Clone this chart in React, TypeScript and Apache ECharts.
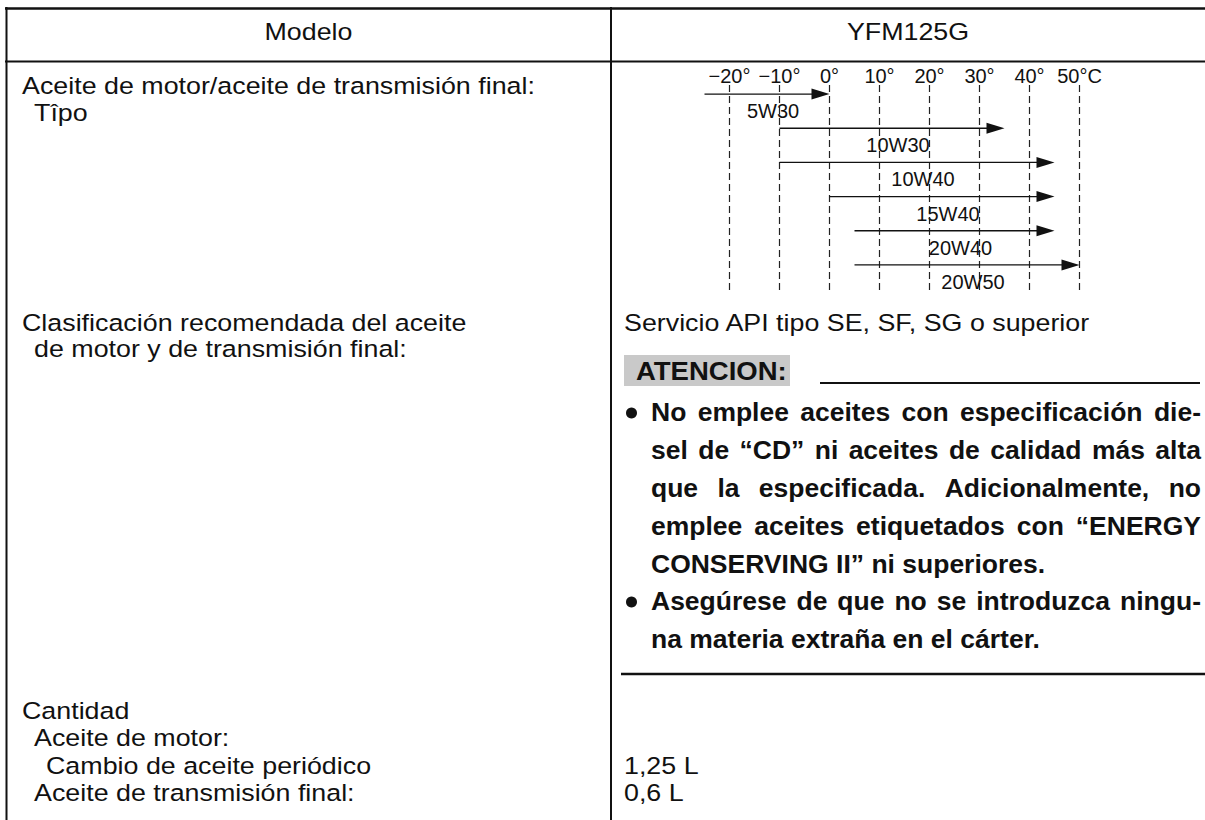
import React, { useEffect, useRef } from "react";
import * as echarts from "echarts";

// ---- data ----
const tempTicks = [-20, -10, 0, 10, 20, 30, 40, 50];
const oilGrades = ["5W30", "10W30", "10W40", "15W40", "20W40", "20W50"];
const fromTemp = [-25, -10, -10, 0, 5, 5];
const toTemp = [0, 35, 45, 45, 45, 50];

const headerLabels = ["Modelo", "YFM125G"];
const oilTypeLabels = ["Aceite de motor/aceite de transmisión final:", "Tîpo"];
const classLabels = ["Clasificación recomendada del aceite", "de motor y de transmisión final:"];
const classValue = "Servicio API tipo SE, SF, SG o superior";
const cautionTitle = "ATENCION:";
const cautionLines = [
  "No emplee aceites con especificación die-",
  "sel de “CD” ni aceites de calidad más alta",
  "que la especificada. Adicionalmente, no",
  "emplee aceites etiquetados con “ENERGY",
  "CONSERVING II” ni superiores.",
  "Asegúrese de que no se introduzca ningu-",
  "na materia extraña en el cárter.",
];
const cautionBullet = [true, false, false, false, false, true, false];
const cautionJustify = [true, true, true, true, false, true, false];
const quantityLabels = ["Cantidad", "Aceite de motor:", "Cambio de aceite periódico", "Aceite de transmisión final:"];
const quantityValues = ["1,25 L", "0,6 L"];

const FONT = '"Liberation Sans", Arial, Helvetica, sans-serif';
const INK = "#111";

export default function App() {
  const ref = useRef<HTMLDivElement>(null);

  useEffect(() => {
    document.body.style.margin = "0";
    const chart = echarts.init(ref.current!, null, { renderer: "svg" });

    const canvas = document.createElement("canvas");
    const ctx = canvas.getContext("2d")!;
    const measure = (t: string, font: string) => {
      ctx.font = font;
      return ctx.measureText(t).width;
    };

    const NFS = 24.5;
    const NSX = 1.095;
    const BFS = 25;
    const BSX = 1.06;

    const txt = (text: string, x: number, baseline: number, opts: any = {}) => {
      const fs = opts.fontSize || NFS;
      return {
        type: "text",
        x,
        y: baseline - 0.35 * fs,
        scaleX: opts.scaleX || NSX,
        silent: true,
        style: {
          text,
          fill: INK,
          fontSize: fs,
          fontFamily: FONT,
          fontWeight: opts.bold ? "bold" : "normal",
          align: opts.align || "left",
          verticalAlign: "middle",
        },
      };
    };

    const hline = (x1: number, x2: number, y: number, w = 2) => ({
      type: "line",
      silent: true,
      shape: { x1, y1: y, x2, y2: y },
      style: { stroke: INK, lineWidth: w },
    });
    const vline = (x: number, y1: number, y2: number, w = 2) => ({
      type: "line",
      silent: true,
      shape: { x1: x, y1, x2: x, y2 },
      style: { stroke: INK, lineWidth: w },
    });

    const graphics: any[] = [];
    // table frame
    graphics.push(hline(5, 1205, 8.5, 2.5));
    graphics.push(vline(6.5, 7, 820, 2));
    graphics.push(hline(5, 1205, 61.5, 2));
    graphics.push(vline(611, 7, 820, 2));

    // header
    graphics.push(txt(headerLabels[0], 308.5, 40, { align: "center" }));
    graphics.push(txt(headerLabels[1], 908, 40, { align: "center" }));

    // left column
    graphics.push(txt(oilTypeLabels[0], 22, 94));
    graphics.push(txt(oilTypeLabels[1], 34, 121));
    graphics.push(txt(classLabels[0], 22, 331));
    graphics.push(txt(classLabels[1], 34, 357));
    const qIndent = [22, 34, 46, 34];
    const qBase = [719, 746, 774, 801];
    quantityLabels.forEach((q, i) => graphics.push(txt(q, qIndent[i], qBase[i])));

    // right column
    graphics.push(txt(classValue, 624, 331));
    graphics.push(txt(quantityValues[0], 624, 774));
    graphics.push(txt(quantityValues[1], 624, 801));

    // caution box
    graphics.push({
      type: "rect",
      silent: true,
      shape: { x: 624, y: 355, width: 166, height: 31 },
      style: { fill: "#c9c9c9" },
    });
    graphics.push(txt(cautionTitle, 636, 380, { bold: true, fontSize: BFS, scaleX: 1.1 }));
    graphics.push(hline(820, 1200, 383, 2));

    // caution text, justified
    const bFont = `bold ${BFS}px ${FONT}`;
    const left = 651;
    const right = 1201;
    cautionLines.forEach((line, i) => {
      const base = 421.5 + i * 37.8;
      if (cautionBullet[i]) {
        graphics.push({
          type: "circle",
          silent: true,
          shape: { cx: 631.5, cy: base - 8.5, r: 5.5 },
          style: { fill: INK },
        });
      }
      const words = line.split(" ");
      const widths = words.map((w) => measure(w, bFont) * BSX);
      const total = widths.reduce((a, b) => a + b, 0);
      const gap = cautionJustify[i]
        ? (right - left - total) / (words.length - 1)
        : measure(" ", bFont) * BSX;
      let cur = left;
      words.forEach((w, k) => {
        graphics.push(txt(w, cur, base, { bold: true, fontSize: BFS, scaleX: BSX }));
        cur += widths[k] + gap;
      });
    });
    graphics.push(hline(621, 1205, 674, 2.5));

    const option: any = {
      animation: false,
      backgroundColor: "#fff",
      grid: { left: 729.5, right: 125.5, top: 85, bottom: 530, containLabel: false },
      xAxis: {
        type: "value",
        position: "top",
        min: tempTicks[0],
        max: tempTicks[tempTicks.length - 1],
        interval: 10,
        axisLine: { show: false },
        axisTick: { show: false },
        axisLabel: {
          margin: -1,
          fontSize: 20,
          fontFamily: FONT,
          color: INK,
          formatter: (v: number) => {
            const s = (v < 0 ? "−" + Math.abs(v) : String(v)) + "°";
            return v === tempTicks[tempTicks.length - 1] ? s + "C" : s;
          },
        },
        splitLine: {
          show: true,
          lineStyle: { color: "#222", width: 1.2, type: [7, 4] },
        },
      },
      yAxis: {
        type: "category",
        data: oilGrades,
        inverse: true,
        show: false,
      },
      series: [
        {
          type: "custom",
          clip: false,
          encode: { x: [0, 1], y: 2 },
          data: oilGrades.map((g, i) => [fromTemp[i], toTemp[i], i]),
          renderItem: (params: any, api: any) => {
            const i = api.value(2);
            const p0 = api.coord([api.value(0), i]);
            const p1 = api.coord([api.value(1), i]);
            const y = p0[1] - 8;
            const head = 18;
            return {
              type: "group",
              children: [
                {
                  type: "line",
                  shape: { x1: p0[0], y1: y, x2: p1[0] - head + 2, y2: y },
                  style: { stroke: INK, lineWidth: 1.4 },
                },
                {
                  type: "polygon",
                  shape: { points: [[p1[0], y], [p1[0] - head, y - 5.5], [p1[0] - head, y + 5.5]] },
                  style: { fill: INK },
                },
                {
                  type: "text",
                  x: (p0[0] + p1[0]) / 2 + 6,
                  y: y + 17,
                  style: {
                    text: oilGrades[i],
                    fill: INK,
                    fontSize: 20,
                    fontFamily: FONT,
                    align: "center",
                    verticalAlign: "middle",
                  },
                },
              ],
            };
          },
        },
      ],
      graphic: graphics,
    };

    chart.setOption(option);
    return () => chart.dispose();
  }, []);

  return <div ref={ref} style={{ width: 1205, height: 820, background: "#fff" }} />;
}
